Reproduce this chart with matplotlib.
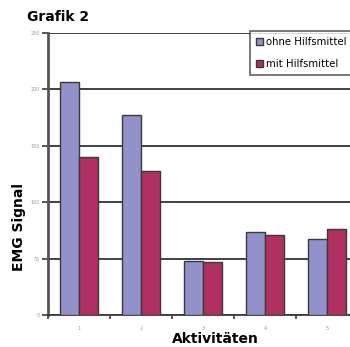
import numpy as np
import matplotlib
matplotlib.use("Agg")
import matplotlib.pyplot as plt
from matplotlib.ticker import MultipleLocator

# Werte aus Grafik 2
aktivitaeten = ["1", "2", "3", "4", "5"]
ohne_hilfsmittel = [207, 177, 48, 74, 67]
mit_hilfsmittel = [140, 128, 47, 71, 76]

blau = "#9391c9"
rot = "#b03062"
rahmen = "#3a3a3a"

fig = plt.figure(figsize=(3.5, 3.47), dpi=100)
ax = fig.add_axes([48/350, 1-315/347, 310/350, 282/347])

x = np.arange(1, len(aktivitaeten)+1)
b = 0.3
ax.bar(x-b/2, ohne_hilfsmittel, b, color=blau, edgecolor=rahmen, linewidth=1, label="ohne Hilfsmittel", zorder=3)
ax.bar(x+b/2, mit_hilfsmittel, b, color=rot, edgecolor=rahmen, linewidth=1, label="mit Hilfsmittel", zorder=3)

ax.set_xlim(0.5, 5.5)
ax.set_ylim(0, 250)
ax.yaxis.set_major_locator(MultipleLocator(50))
ax.grid(axis="y", color="#333333", linewidth=1.3, zorder=1)
ax.set_axisbelow(True)

ax.set_xticks(x)
ax.set_xticklabels(aktivitaeten)
ax.set_xticks(np.arange(0.5, 6, 1), minor=True)
ax.tick_params(axis="x", which="major", length=0, labelsize=3.5, labelcolor="#999999", pad=8)
ax.tick_params(axis="x", which="minor", length=3, width=1.2, color=rahmen, direction="out")
ax.tick_params(axis="y", length=4, width=1.2, color=rahmen, labelsize=3.5, labelcolor="#999999", pad=2)

for s in ["top", "right"]:
    ax.spines[s].set_visible(False)
ax.spines["left"].set_color("#555555")
ax.spines["left"].set_linewidth(2)
ax.spines["bottom"].set_color(rahmen)
ax.spines["bottom"].set_linewidth(1.3)

fig.text(27/350, 1-17/347, "Grafik 2", fontsize=10, fontweight="bold", va="center", ha="left")
fig.text(19/350, 1-227/347, "EMG Signal", fontsize=10, fontweight="bold", rotation=90, va="center", ha="center")
fig.text(215/350, 1-339/347, "Aktivitäten", fontsize=10, fontweight="bold", va="center", ha="center")

leg = fig.legend(loc="upper left", bbox_to_anchor=(250/350, 1-31/347), borderaxespad=0,
                 fancybox=False, frameon=True, fontsize=7.3, handlelength=0.7, handleheight=0.7,
                 handletextpad=0.3, labelspacing=1.2, borderpad=0.6)
leg.get_frame().set_edgecolor(rahmen)
leg.get_frame().set_linewidth(1.2)

fig.savefig("out.png", dpi=100)
